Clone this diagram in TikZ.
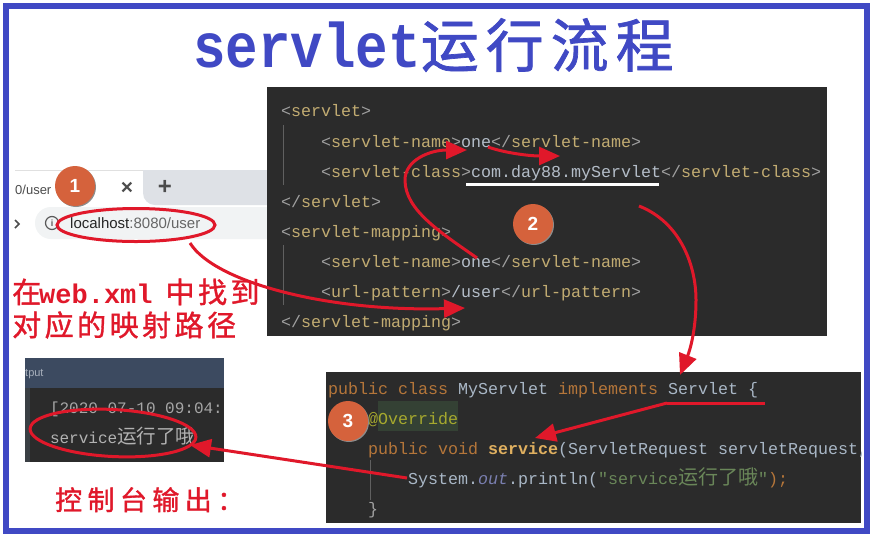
\documentclass[tikz,border=0pt]{standalone}
\usepackage{fontspec}
\usepackage{graphicx}
\setmainfont{Liberation Sans}
\setmonofont{Liberation Mono}
\newfontfamily\cjk{Noto Sans CJK SC}
\newfontfamily\cjktitle[LetterSpace=12,FakeBold=1.2]{Noto Sans CJK SC}
\newfontfamily\cjkwide[LetterSpace=12,FakeBold=1.2]{Noto Sans CJK SC}
\newfontfamily\cjkwider[LetterSpace=20,FakeBold=1.2]{Noto Sans CJK SC}
\usetikzlibrary{arrows.meta,shapes.geometric}
\definecolor{frameblue}{HTML}{4049C4}
\definecolor{redmark}{HTML}{E0182A}
\definecolor{panel}{HTML}{2B2B2B}
\definecolor{tagc}{HTML}{C2AC72}
\definecolor{brk}{HTML}{A0A0A0}
\definecolor{valc}{HTML}{B4BDC8}
\definecolor{kw}{HTML}{B5763A}
\definecolor{plainc}{HTML}{A9B7C6}
\definecolor{strc}{HTML}{6A8759}
\definecolor{badge}{HTML}{D5623C}
\definecolor{tabgrey}{HTML}{DEE1E6}
\definecolor{pillgrey}{HTML}{F1F3F4}
\definecolor{ovbg}{HTML}{344134}
\definecolor{ovfg}{HTML}{A6A92E}
\definecolor{conhead}{HTML}{3C4A60}
\definecolor{congut}{HTML}{3A3F44}
\definecolor{conlabel}{HTML}{A8B0BC}
\definecolor{svc}{HTML}{E0B060}
\definecolor{outc}{HTML}{7A7FB0}
\newcommand\tg[1]{\textcolor{tagc}{#1}}
\newcommand\bk[1]{\textcolor{brk}{#1}}
\newcommand\vl[1]{\textcolor{valc}{#1}}
\newcommand\kwd[1]{\textcolor{kw}{#1}}
\tikzset{
  code/.style={anchor=base west,inner sep=0pt,outer sep=0pt,font=\ttfamily\fontsize{16.67}{18}\selectfont,text=plainc},
  redtext/.style={anchor=base west,inner sep=0pt,text=redmark},
  numbadge/.style={circle,fill=badge,minimum size=40pt,inner sep=0pt,text=white,font=\bfseries\fontsize{19}{20}\selectfont},
  badgeshadow/.style={circle,fill=black!45,minimum size=40pt,inner sep=0pt},
  redring/.style={ellipse,draw=redmark,line width=3pt,inner sep=0pt},
  redline/.style={draw=redmark,line width=3pt},
  redarrow/.style={draw=redmark,line width=3pt,-{Triangle[length=21pt,width=18pt]}},
  whiterule/.style={draw=white,line width=3pt}
}
\begin{document}
\begin{tikzpicture}[x=1pt,y=-1pt]
\useasboundingbox (0,0) rectangle (874,539);
\fill[white] (0,0) rectangle (874,539);
% browser
\fill[black!12] (15,170) rectangle (143,171);
\fill[tabgrey] (143,170) [rounded corners=12pt] -- (143,205) -- (285,205) [sharp corners] -- (285,170) -- cycle;
\fill[pillgrey,rounded corners=16pt] (35,207) rectangle (300,239);
\node[anchor=base west,inner sep=0pt,font=\fontsize{13}{16}\selectfont,text=black!70] (tabtext) at (15,194) {0/user};
\node[inner sep=0pt,font=\bfseries\fontsize{21}{21}\selectfont,text=black!70] (tabx) at (127,188) {×};
\node[inner sep=0pt,font=\bfseries\fontsize{24}{24}\selectfont,text=black!70] (tabplus) at (165,187) {+};
\draw[black!70,line width=1.5pt] (15,220) -- (19,224) -- (15,228);
\node[circle,draw=black!65,line width=1.2pt,minimum size=13pt,inner sep=0pt,font=\bfseries\fontsize{9}{9}\selectfont,text=black!65] (info) at (52,223) {i};
\node[anchor=base west,inner sep=0pt,font=\fontsize{15}{16}\selectfont] (url) at (70,228) {\textcolor{black!85}{localhost}\textcolor{black!60}{:8080/user}};
% xml panel
\fill[panel] (267,87) rectangle (827,336);
\draw[white!25!panel] (283,125) -- (283,185) (283,245) -- (283,305);
\node[code] (x1) at (281,116) {\bk{<}\tg{servlet}\bk{>}};
\node[code] (x2) at (321,147) {\bk{<}\tg{servlet-name}\bk{>}\vl{one}\bk{</}\tg{servlet-name}\bk{>}};
\node[code] (x3) at (321,177) {\bk{<}\tg{servlet-class}\bk{>}\vl{com.day88.myServlet}\bk{</}\tg{servlet-class}\bk{>}};
\node[code] (x4) at (281,207) {\bk{</}\tg{servlet}\bk{>}};
\node[code] (x5) at (281,237) {\bk{<}\tg{servlet-mapping}\bk{>}};
\node[code] (x6) at (321,267) {\bk{<}\tg{servlet-name}\bk{>}\vl{one}\bk{</}\tg{servlet-name}\bk{>}};
\node[code] (x7) at (321,297) {\bk{<}\tg{url-pattern}\bk{>}\vl{/user}\bk{</}\tg{url-pattern}\bk{>}};
\node[code] (x8) at (281,327) {\bk{</}\tg{servlet-mapping}\bk{>}};
% java panel
\fill[panel] (326,372) rectangle (861,523);
\fill[ovbg] (378,401) rectangle (458,431);
\draw[white!25!panel] (370,460) -- (370,500);
\begin{scope}
\clip (326,372) rectangle (861,523);
\node[code] (j1) at (328,394) {\kwd{public class }MyServlet \kwd{implements }Servlet \{};
\node[code,text=ovfg] (j2) at (368,424) {@Override};
\node[code] (j3) at (368,454) {\kwd{public void }\textcolor{svc}{\bfseries service}(ServletRequest servletRequest,};
\node[code] (j4) at (408,484) {System.\textcolor{outc}{\itshape out}.println(\textcolor{strc}{"service{\cjk\fontsize{20}{20}\selectfont 运行了哦}"}\kwd{);}};
\node[code,text=brk] (j5) at (368,514) {\}};
\end{scope}
% console
\fill[conhead] (25,358) rectangle (224,388);
\fill[panel] (25,388) rectangle (224,462);
\fill[congut] (25,388) rectangle (30,462);
\node[anchor=base west,inner sep=0pt,font=\fontsize{11}{12}\selectfont,text=conlabel] (outlabel) at (25,376) {tput};
\begin{scope}
\clip (25,358) rectangle (224,462);
\node[code,font=\ttfamily\fontsize{16}{18}\selectfont,text=black!35] (c1) at (50,413) {[2020-07-10 09:04:};
\node[code,font=\ttfamily\fontsize{16}{18}\selectfont,text=black!30] (c2) at (50,443) {service{\cjk\fontsize{19.5}{19}\selectfont 运行了哦}};
\end{scope}
% title
\node[anchor=base west,inner sep=0pt,text=frameblue] (title) at (193,67) {\scalebox{0.86}[1]{\ttfamily\bfseries\fontsize{63}{63}\selectfont servlet}{\cjktitle\fontsize{58}{60}\selectfont 运行流程}};
% red labels
\node[redtext,font=\cjkwide\fontsize{29}{30}\selectfont] (lab1) at (12,303) {在\hspace{-2pt}{\ttfamily\bfseries\fontsize{27}{30}\selectfont web.xml}\hspace{13pt}中找到};
\node[redtext,font=\cjkwide\fontsize{29}{30}\selectfont] (lab2) at (12,336) {对应的映射路径};
\node[redtext,font=\cjkwider\fontsize{27}{30}\selectfont] (lab3) at (55,510) {控制台输出：};
% badges
\node[badgeshadow] (s1) at (76,187) {};
\node[numbadge] (b1) at (75,186) {1};
\node[badgeshadow] (s2) at (534,225) {};
\node[numbadge] (b2) at (533,224) {2};
\node[badgeshadow] (s3) at (349,422) {};
\node[numbadge] (b3) at (348,421) {3};
% rings
\node[redring,minimum width=158pt,minimum height=33pt] (urlring) at (136,225) {};
\node[redring,minimum width=166pt,minimum height=47pt,rotate=-3] (conring) at (113,433) {};
% marks and arrows
\coordinate (a1s) at (190,243);
\coordinate (a1e) at (465,308);
\coordinate (a2s) at (477,258);
\coordinate (a2m) at (405,180);
\coordinate (a2e) at (467,150);
\coordinate (a3s) at (488,147);
\coordinate (a3e) at (560,156);
\coordinate (ulAs) at (466,184);
\coordinate (ulAe) at (659,184);
\coordinate (a4s) at (639,206);
\coordinate (a4m) at (696,300);
\coordinate (a4e) at (680,375);
\coordinate (ulBs) at (667,403);
\coordinate (ulBe) at (765,403);
\coordinate (a5e) at (535,438);
\coordinate (a6s) at (407,478);
\coordinate (a6e) at (190,445);
\draw[whiterule] (ulAs) -- (ulAe);
\draw[redline] (ulBs) -- (ulBe);
\draw[redarrow] (a1s) .. controls (215,283) and (330,312) .. (a1e);
\draw[redarrow] (a2s) .. controls (440,232) and (405,210) .. (a2m) .. controls (405,160) and (430,150) .. (a2e);
\draw[redarrow] (a3s) .. controls (505,153) and (530,156) .. (a3e);
\draw[redarrow] (a4s) .. controls (680,222) and (696,265) .. (a4m) .. controls (696,330) and (690,350) .. (a4e);
\draw[redarrow] (ulBs) -- (a5e);
\draw[redarrow] (a6s) -- (a6e);
% frame
\draw[frameblue,line width=6pt] (6,6) rectangle (867,531);
\end{tikzpicture}
\end{document}
